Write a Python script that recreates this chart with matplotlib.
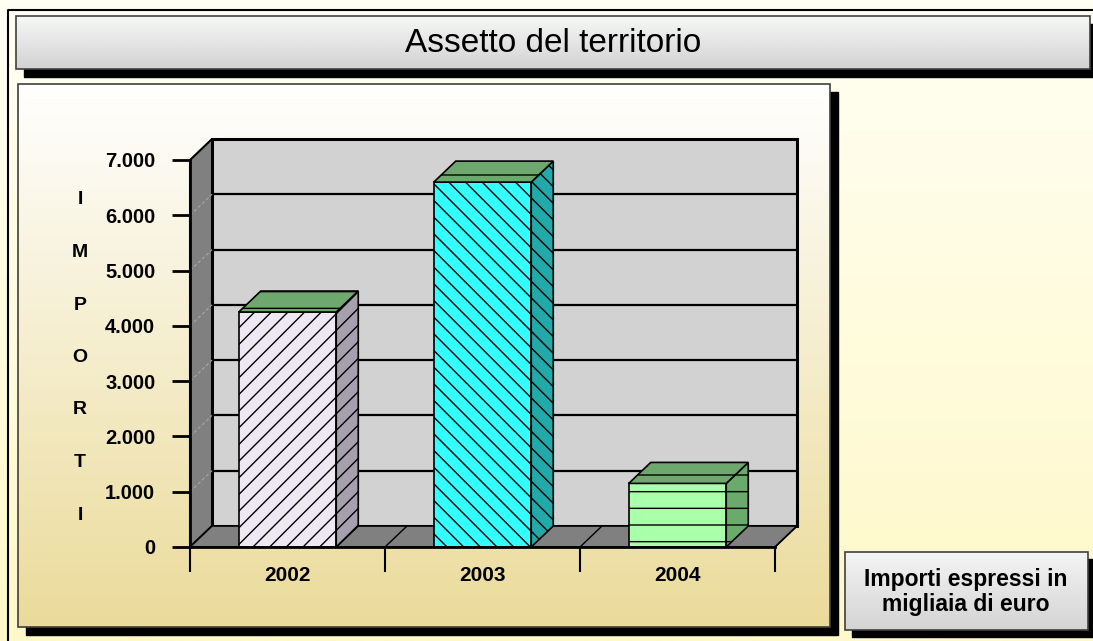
import numpy as np
import matplotlib
matplotlib.use("Agg")
import matplotlib.pyplot as plt
from matplotlib.patches import Rectangle, Polygon
from matplotlib.colors import to_rgb

plt.rcParams['font.family'] = ['Liberation Sans', 'DejaVu Sans']

# data
years = ["2002", "2003", "2004"]
values = [4250, 6600, 1150]
yticks = [0, 1000, 2000, 3000, 4000, 5000, 6000, 7000]
title = "Assetto del territorio"
ylabel_letters = list("IMPORTI")
note = "Importi espressi in\nmigliaia di euro"

# styles per bar
face_cols = ['#EEE8F2', '#33FFFF', '#AAFFAA']
side_cols = ['#A69FAE', '#22AAAA', '#6AAA6A']
top_col = '#6FA86F'
hatches = ['//', '\\\\', '-']

W, H = 1093, 641
fig = plt.figure(figsize=(W / 100, H / 100), dpi=100)

# background layer in pixel coords
bg = fig.add_axes([0, 0, 1, 1])
bg.set_xlim(0, W)
bg.set_ylim(H, 0)
bg.axis('off')


def grad_rect(ax, x0, y0, x1, y1, c_top, c_bot, z):
    t = np.linspace(0, 1, 200)[:, None, None]
    img = (1 - t) * np.array(to_rgb(c_top)) + t * np.array(to_rgb(c_bot))
    ax.imshow(img, extent=[x0, x1, y1, y0], origin='upper', aspect='auto',
              zorder=z, interpolation='bilinear')


def boxed(ax, x0, y0, x1, y1, c_top, c_bot, z, shadow=8):
    ax.add_patch(Rectangle((x0 + shadow, y0 + shadow), x1 - x0, y1 - y0,
                           color='black', zorder=z))
    grad_rect(ax, x0, y0, x1, y1, c_top, c_bot, z + 1)
    ax.add_patch(Rectangle((x0, y0), x1 - x0, y1 - y0, fill=False,
                           edgecolor='#404040', lw=1.2, zorder=z + 2))


grad_rect(bg, 0, 0, W, H, '#FFFFF4', '#FFF8C8', 0)
bg.plot([8, 8, W], [H, 10, 10], color='black', lw=1.5, zorder=1)

# title bar
boxed(bg, 16, 16, 1090, 69, '#F6F8F6', '#D2D2D2', 2)
bg.text(553, 44, title, ha='center', va='center', fontsize=24, zorder=10)

# plot panel
boxed(bg, 18, 84, 830, 627, '#FFFFFF', '#EBDB9A', 2)

# note box
boxed(bg, 845, 552, 1088, 630, '#F4F4F4', '#D4D4D4', 2, shadow=7)
bg.text(966, 592, note, ha='center', va='center', fontsize=16.5,
        fontweight='bold', linespacing=1.12, zorder=10)

# vertical label
for i, ch in enumerate(ylabel_letters):
    bg.text(80, 200 + i * 52.5, ch, ha='center', va='center',
            fontsize=14, fontweight='bold', zorder=10)

# main chart axes
ax = fig.add_axes([190 / W, 94 / H, 585 / W, 387 / H])
ax.patch.set_visible(False)
ax.set_xlim(0, 3)
ax.set_ylim(0, 7000)

DX, DY = 22 * 3 / 585, 21 * 7000 / 387   # depth of the 3D effect
n = len(years)
ymax = yticks[-1]

# back wall
ax.add_patch(Rectangle((DX, DY), n, ymax, facecolor='#D2D2D2',
                       edgecolor='black', lw=2.2, clip_on=False, zorder=1))
for v in yticks[1:-1]:
    ax.plot([DX, n + DX], [v + DY, v + DY], color='black', lw=1.6,
            clip_on=False, zorder=1.5)
# side wall
ax.add_patch(Polygon([(0, 0), (0, ymax), (DX, ymax + DY), (DX, DY)],
                     facecolor='#808080', edgecolor='black', lw=1.5,
                     clip_on=False, zorder=2))
for v in yticks[1:-1]:
    ax.plot([0, DX], [v, v + DY], color='#A8A8A8', lw=0.8, ls=(0, (3, 2)),
            clip_on=False, zorder=2.1)
# floor
ax.add_patch(Polygon([(0, 0), (n, 0), (n + DX, DY), (DX, DY)],
                     facecolor='#808080', edgecolor='black', lw=1.2,
                     clip_on=False, zorder=2))
for k in range(1, n + 1):
    ax.plot([k, k + DX], [0, DY], color='black', lw=1.0,
            clip_on=False, zorder=2.1)

# bars
x = np.arange(n) + 0.5
bw = 0.5
for i in range(n):
    x0, x1, h = x[i] - bw / 2, x[i] + bw / 2, values[i]
    ax.bar(x[i], h, width=bw, color=face_cols[i], edgecolor='black',
           hatch=hatches[i], lw=1.2, zorder=5, clip_on=False)
    ax.add_patch(Polygon([(x1, 0), (x1, h), (x1 + DX, h + DY), (x1 + DX, DY)],
                         facecolor=side_cols[i], edgecolor='black',
                         hatch=hatches[i], lw=1.2, clip_on=False, zorder=5))
    ax.add_patch(Polygon([(x0, h), (x1, h), (x1 + DX, h + DY), (x0 + DX, h + DY)],
                         facecolor=top_col, edgecolor='black', hatch='-',
                         lw=1.2, clip_on=False, zorder=5))

# axes and ticks
for s in ['top', 'right']:
    ax.spines[s].set_visible(False)
for s in ['left', 'bottom']:
    ax.spines[s].set_linewidth(2)
    ax.spines[s].set_zorder(6)
ax.set_yticks(yticks)
ax.set_yticklabels([f"{v:,.0f}".replace(",", ".") for v in yticks])
ax.tick_params(axis='y', direction='out', length=13, width=2, pad=12,
               labelsize=14.5)
ax.set_xticks(np.arange(n + 1))
ax.set_xticklabels([])
ax.tick_params(axis='x', which='major', direction='out', length=18, width=1.5)
ax.set_xticks(x, minor=True)
ax.set_xticklabels(years, minor=True)
ax.tick_params(axis='x', which='minor', length=0, pad=14, labelsize=15)
for lab in ax.get_yticklabels() + ax.get_xticklabels(minor=True):
    lab.set_fontweight('bold')

fig.savefig("out.png", dpi=100)
